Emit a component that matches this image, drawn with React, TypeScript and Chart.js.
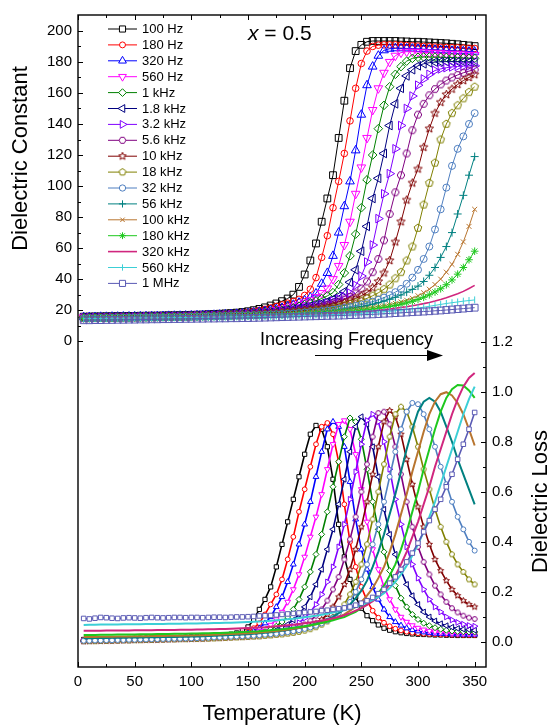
import React, { useEffect, useRef } from 'react';
import { Chart, registerables } from 'chart.js';
import { drawPoint } from 'chart.js/helpers';

Chart.register(...registerables);

const FONT = "'Liberation Sans', Arial, Helvetica, sans-serif";

// ---------------- data ----------------
const TEMPS = [
  5, 10, 15, 20, 25, 30, 35, 40, 45, 50,
  55, 60, 65, 70, 75, 80, 85, 90, 95, 100,
  105, 110, 115, 120, 125, 130, 135, 140, 145, 150,
  155, 160, 165, 170, 175, 180, 185, 190, 195, 200,
  205, 210, 215, 220, 225, 230, 235, 240, 245, 250,
  255, 260, 265, 270, 275, 280, 285, 290, 295, 300,
  305, 310, 315, 320, 325, 330, 335, 340, 345, 350,
];

const FREQ_LABELS = [
  '100 Hz', '180 Hz', '320 Hz', '560 Hz', '1 kHz', '1.8 kHz', '3.2 kHz', '5.6 kHz', '10 kHz',
  '18 kHz', '32 kHz', '56 kHz', '100 kHz', '180 kHz', '320 kHz', '560 kHz', '1 MHz',
];

// Dielectric constant (top panel)
const EPS_100HZ = [
  15.8, 15.9, 16.0, 16.0, 16.1, 16.1, 16.2, 16.2, 16.3, 16.3,
  16.4, 16.4, 16.5, 16.5, 16.6, 16.7, 16.7, 16.8, 16.9, 17.0,
  17.1, 17.2, 17.4, 17.5, 17.7, 17.9, 18.1, 18.4, 18.8, 19.3,
  20.0, 20.8, 21.8, 23.0, 24.3, 25.8, 27.5, 30.0, 35, 43,
  52, 63, 77, 92, 107, 131, 155, 176, 187, 191,
  193, 193.5, 193.5, 193.5, 193.5, 193.5, 193.3, 193.2, 193.0, 193.0,
  192.8, 192.6, 192.4, 192.2, 192.0, 191.7, 191.4, 191.0, 190.6, 190.2,
];
const EPS_180HZ = [
  15.6, 15.7, 15.8, 15.8, 15.9, 15.9, 16.0, 16.0, 16.1, 16.1,
  16.2, 16.2, 16.3, 16.3, 16.4, 16.5, 16.5, 16.6, 16.7, 16.8,
  16.9, 17.0, 17.1, 17.3, 17.4, 17.6, 17.8, 18.0, 18.3, 18.7,
  19.2, 19.8, 20.5, 21.4, 22.4, 23.4, 24.5, 25.6, 27.0, 29.5,
  33.5, 41, 54, 68, 86, 103, 121, 142, 163, 179,
  187, 190, 190.8, 191, 191, 191, 190.8, 190.6, 190.4, 190.2,
  190.0, 189.8, 189.6, 189.4, 189.3, 189.2, 189.1, 189.0, 188.8, 188.7,
];
const EPS_320HZ = [
  15.5, 15.6, 15.6, 15.7, 15.7, 15.8, 15.8, 15.9, 15.9, 16.0,
  16.0, 16.1, 16.1, 16.2, 16.2, 16.3, 16.4, 16.4, 16.5, 16.6,
  16.7, 16.8, 16.9, 17.0, 17.1, 17.3, 17.4, 17.6, 17.8, 18.1,
  18.5, 18.9, 19.4, 20.0, 20.7, 21.5, 22.4, 23.5, 24.8, 26.3,
  28.2, 30.8, 37, 44, 55, 70, 87, 103, 123, 146,
  165, 177, 184, 187.5, 188.5, 188.8, 188.8, 188.7, 188.6, 188.4,
  188.2, 188.0, 187.8, 187.6, 187.4, 187.2, 187.0, 186.9, 186.7, 186.6,
];
const EPS_560HZ = [
  15.4, 15.5, 15.5, 15.6, 15.6, 15.7, 15.7, 15.8, 15.8, 15.9,
  15.9, 16.0, 16.0, 16.1, 16.1, 16.2, 16.3, 16.3, 16.4, 16.5,
  16.6, 16.7, 16.8, 16.9, 17.0, 17.1, 17.3, 17.4, 17.6, 17.8,
  18.1, 18.5, 18.9, 19.4, 20.0, 20.7, 21.5, 22.4, 23.5, 24.8,
  26.4, 28.4, 31, 34, 40, 48.5, 62, 77, 95, 112,
  131, 149, 163, 173, 180, 184, 186, 186.6, 186.6, 186.4,
  186.2, 186.0, 185.8, 185.6, 185.4, 185.2, 185.0, 184.8, 184.6, 184.5,
];
const EPS_1KHZ = [
  15.3, 15.4, 15.4, 15.5, 15.5, 15.6, 15.6, 15.7, 15.7, 15.8,
  15.8, 15.9, 15.9, 16.0, 16.0, 16.1, 16.2, 16.2, 16.3, 16.4,
  16.5, 16.6, 16.7, 16.8, 16.9, 17.0, 17.1, 17.3, 17.4, 17.6,
  17.8, 18.1, 18.5, 18.9, 19.4, 20.0, 20.7, 21.5, 22.5, 23.6,
  24.8, 26.0, 27.5, 29.2, 31.3, 36.5, 44, 55, 69, 86,
  104, 120, 137, 152, 164, 172, 177, 180.5, 182.3, 183.0,
  183.2, 183.2, 183.1, 183.0, 182.9, 182.8, 182.7, 182.6, 182.4, 182.3,
];
const EPS_1_8KHZ = [
  15.2, 15.3, 15.3, 15.4, 15.4, 15.5, 15.5, 15.6, 15.6, 15.7,
  15.7, 15.8, 15.8, 15.9, 15.9, 16.0, 16.1, 16.1, 16.2, 16.3,
  16.4, 16.5, 16.6, 16.7, 16.8, 16.9, 17.0, 17.1, 17.2, 17.4,
  17.6, 17.9, 18.2, 18.6, 19.0, 19.5, 20.0, 20.6, 21.2, 21.9,
  22.6, 23.4, 24.4, 25.6, 27.1, 29, 32, 38, 46, 58,
  74, 92, 105, 121, 139, 153, 163, 171, 175, 177.5,
  178.8, 179.5, 179.9, 180.1, 180.2, 180.2, 180.2, 180.1, 180.0, 180.0,
];
const EPS_3_2KHZ = [
  15.1, 15.2, 15.2, 15.3, 15.3, 15.4, 15.4, 15.5, 15.5, 15.6,
  15.6, 15.7, 15.7, 15.8, 15.8, 15.9, 16.0, 16.0, 16.1, 16.2,
  16.3, 16.4, 16.5, 16.6, 16.7, 16.8, 16.9, 17.0, 17.1, 17.2,
  17.4, 17.6, 17.9, 18.2, 18.5, 18.9, 19.4, 19.9, 20.5, 21.1,
  21.8, 22.6, 23.5, 24.6, 25.8, 27.2, 28.8, 31, 36, 42,
  51, 62, 79, 95, 108, 124, 139, 150, 158, 165,
  169, 172, 174.5, 175.5, 176.3, 176.8, 177.1, 177.3, 177.4, 177.5,
];
const EPS_5_6KHZ = [
  15.0, 15.1, 15.1, 15.2, 15.2, 15.3, 15.3, 15.4, 15.4, 15.5,
  15.5, 15.6, 15.6, 15.7, 15.7, 15.8, 15.9, 15.9, 16.0, 16.1,
  16.2, 16.3, 16.4, 16.5, 16.6, 16.7, 16.8, 16.9, 17.0, 17.1,
  17.3, 17.5, 17.7, 18.0, 18.3, 18.6, 19.0, 19.4, 19.9, 20.4,
  21.0, 21.7, 22.4, 23.3, 24.3, 25.5, 26.9, 28.5, 30.8, 34,
  38.5, 44.5, 53, 65, 82, 96, 107, 121, 136, 146,
  153, 158.5, 162.5, 165.5, 168, 170, 171.6, 173, 174.1, 175,
];
const EPS_10KHZ = [
  14.9, 15.0, 15.0, 15.1, 15.1, 15.2, 15.2, 15.3, 15.3, 15.4,
  15.4, 15.5, 15.5, 15.6, 15.6, 15.7, 15.8, 15.8, 15.9, 16.0,
  16.1, 16.2, 16.3, 16.4, 16.5, 16.6, 16.7, 16.8, 16.9, 17.0,
  17.1, 17.3, 17.5, 17.7, 18.0, 18.3, 18.6, 19.0, 19.4, 19.8,
  20.3, 20.9, 21.5, 22.2, 23.0, 23.9, 25.0, 26.2, 27.6, 29.3,
  31.4, 34.5, 38.5, 44, 52, 64, 77, 91, 102, 111,
  125, 137, 147, 154, 159, 162.5, 165.5, 168, 170, 171.8,
];
const EPS_18KHZ = [
  14.9, 14.9, 15.0, 15.0, 15.1, 15.1, 15.2, 15.2, 15.3, 15.3,
  15.4, 15.4, 15.5, 15.5, 15.6, 15.6, 15.7, 15.7, 15.8, 15.9,
  16.0, 16.1, 16.2, 16.3, 16.4, 16.5, 16.6, 16.7, 16.8, 16.9,
  17.0, 17.1, 17.3, 17.5, 17.7, 17.9, 18.2, 18.5, 18.8, 19.2,
  19.6, 20.0, 20.5, 21.0, 21.6, 22.3, 23.1, 24.0, 25.0, 26.2,
  27.6, 29.3, 31.2, 33.5, 36.5, 40.5, 44.5, 52, 61, 73,
  88, 102, 115, 130, 140, 147, 152, 156.5, 160.5, 164,
];
const EPS_32KHZ = [
  14.8, 14.9, 14.9, 15.0, 15.0, 15.1, 15.1, 15.2, 15.2, 15.3,
  15.3, 15.4, 15.4, 15.5, 15.5, 15.6, 15.6, 15.7, 15.7, 15.8,
  15.9, 16.0, 16.0, 16.1, 16.2, 16.3, 16.4, 16.5, 16.6, 16.7,
  16.8, 16.9, 17.0, 17.2, 17.3, 17.5, 17.7, 17.9, 18.2, 18.5,
  18.8, 19.1, 19.5, 19.9, 20.4, 20.9, 21.5, 22.1, 22.8, 23.6,
  24.5, 25.5, 26.7, 28.1, 29.7, 31.6, 33.7, 37, 41, 46,
  53, 61, 72, 85, 99, 113, 124, 132, 140, 147,
];
const EPS_56KHZ = [
  14.8, 14.8, 14.9, 14.9, 15.0, 15.0, 15.1, 15.1, 15.2, 15.2,
  15.3, 15.3, 15.4, 15.4, 15.5, 15.5, 15.6, 15.6, 15.7, 15.7,
  15.8, 15.9, 15.9, 16.0, 16.1, 16.2, 16.3, 16.4, 16.5, 16.6,
  16.7, 16.8, 16.9, 17.0, 17.2, 17.3, 17.5, 17.7, 17.9, 18.1,
  18.4, 18.7, 19.0, 19.4, 19.8, 20.2, 20.7, 21.2, 21.8, 22.4,
  23.1, 23.9, 24.8, 25.8, 27.0, 28.3, 29.8, 31.6, 33.4, 35.5,
  38.5, 42.5, 47.5, 54, 61, 70, 82, 94, 107, 119,
];
const EPS_100KHZ = [
  14.7, 14.8, 14.8, 14.9, 14.9, 15.0, 15.0, 15.1, 15.1, 15.2,
  15.2, 15.3, 15.3, 15.4, 15.4, 15.5, 15.5, 15.6, 15.6, 15.7,
  15.7, 15.8, 15.8, 15.9, 16.0, 16.1, 16.1, 16.2, 16.3, 16.4,
  16.5, 16.6, 16.7, 16.8, 16.9, 17.0, 17.2, 17.3, 17.5, 17.7,
  17.9, 18.1, 18.3, 18.6, 18.9, 19.2, 19.5, 19.9, 20.3, 20.7,
  21.2, 21.7, 22.3, 22.9, 23.6, 24.4, 25.3, 26.4, 27.7, 29.3,
  31.2, 33.5, 36.5, 40, 44.5, 49.5, 56, 64, 74, 85,
];
const EPS_180KHZ = [
  14.7, 14.7, 14.8, 14.8, 14.9, 14.9, 15.0, 15.0, 15.1, 15.1,
  15.2, 15.2, 15.3, 15.3, 15.3, 15.4, 15.4, 15.5, 15.5, 15.6,
  15.6, 15.7, 15.7, 15.8, 15.8, 15.9, 16.0, 16.0, 16.1, 16.2,
  16.3, 16.4, 16.5, 16.6, 16.7, 16.8, 16.9, 17.0, 17.2, 17.3,
  17.5, 17.7, 17.9, 18.1, 18.3, 18.6, 18.9, 19.2, 19.5, 19.9,
  20.3, 20.7, 21.2, 21.7, 22.3, 23.0, 23.8, 24.7, 25.7, 26.9,
  28.3, 29.9, 31.7, 33.8, 36.4, 39.5, 43.2, 47.5, 52.5, 58,
];
const EPS_320KHZ = [
  14.6, 14.7, 14.7, 14.8, 14.8, 14.9, 14.9, 15.0, 15.0, 15.0,
  15.1, 15.1, 15.2, 15.2, 15.3, 15.3, 15.3, 15.4, 15.4, 15.5,
  15.5, 15.6, 15.6, 15.7, 15.7, 15.8, 15.8, 15.9, 15.9, 16.0,
  16.1, 16.1, 16.2, 16.3, 16.4, 16.5, 16.6, 16.7, 16.8, 16.9,
  17.0, 17.2, 17.3, 17.5, 17.7, 17.9, 18.1, 18.3, 18.6, 18.9,
  19.2, 19.5, 19.9, 20.3, 20.7, 21.2, 21.7, 22.2, 22.8, 23.5,
  24.2, 25.0, 25.9, 26.9, 28.0, 29.3, 30.6, 32.1, 34.0, 36.0,
];
const EPS_560KHZ = [
  14.5, 14.6, 14.6, 14.7, 14.7, 14.8, 14.8, 14.8, 14.9, 14.9,
  15.0, 15.0, 15.0, 15.1, 15.1, 15.2, 15.2, 15.2, 15.3, 15.3,
  15.4, 15.4, 15.5, 15.5, 15.5, 15.6, 15.6, 15.7, 15.7, 15.8,
  15.8, 15.9, 16.0, 16.0, 16.1, 16.2, 16.3, 16.4, 16.5, 16.6,
  16.7, 16.8, 16.9, 17.0, 17.2, 17.3, 17.5, 17.6, 17.8, 18.0,
  18.2, 18.4, 18.7, 19.0, 19.3, 19.6, 20.0, 20.4, 20.9, 21.4,
  21.9, 22.5, 23.1, 23.7, 24.3, 24.8, 25.3, 25.8, 26.2, 26.6,
];
const EPS_1MHZ = [
  13.5, 13.5, 13.6, 13.6, 13.7, 13.7, 13.8, 13.8, 13.9, 13.9,
  14.0, 14.0, 14.1, 14.1, 14.2, 14.2, 14.3, 14.3, 14.4, 14.4,
  14.5, 14.5, 14.6, 14.6, 14.7, 14.7, 14.8, 14.8, 14.9, 14.9,
  15.0, 15.1, 15.2, 15.3, 15.4, 15.5, 15.6, 15.7, 15.8, 15.9,
  16.0, 16.1, 16.2, 16.3, 16.4, 16.5, 16.6, 16.8, 16.9, 17.0,
  17.2, 17.3, 17.5, 17.7, 17.9, 18.1, 18.3, 18.5, 18.7, 18.9,
  19.1, 19.3, 19.6, 19.8, 20.1, 20.4, 20.7, 21.0, 21.3, 21.6,
];

// Dielectric loss (bottom panel)
const LOSS_100HZ = [
  0.010, 0.010, 0.011, 0.011, 0.012, 0.012, 0.013, 0.013, 0.014, 0.014,
  0.015, 0.015, 0.016, 0.016, 0.017, 0.017, 0.018, 0.018, 0.019, 0.020,
  0.021, 0.022, 0.023, 0.024, 0.026, 0.028, 0.031, 0.036, 0.045, 0.06,
  0.09, 0.13, 0.17, 0.22, 0.30, 0.39, 0.48, 0.57, 0.66, 0.75,
  0.83, 0.865, 0.85, 0.78, 0.65, 0.47, 0.34, 0.25, 0.18, 0.135,
  0.105, 0.085, 0.068, 0.055, 0.047, 0.041, 0.037, 0.034, 0.032, 0.031,
  0.030, 0.029, 0.028, 0.028, 0.027, 0.027, 0.026, 0.026, 0.026, 0.026,
];
const LOSS_180HZ = [
  0.008, 0.009, 0.009, 0.010, 0.010, 0.011, 0.011, 0.012, 0.012, 0.013,
  0.013, 0.014, 0.014, 0.015, 0.015, 0.016, 0.016, 0.017, 0.018, 0.019,
  0.020, 0.021, 0.022, 0.023, 0.024, 0.026, 0.028, 0.030, 0.034, 0.04,
  0.055, 0.075, 0.11, 0.15, 0.19, 0.25, 0.33, 0.42, 0.52, 0.61,
  0.70, 0.79, 0.86, 0.875, 0.83, 0.72, 0.55, 0.40, 0.30, 0.22,
  0.165, 0.125, 0.097, 0.077, 0.063, 0.053, 0.046, 0.041, 0.037, 0.035,
  0.033, 0.032, 0.031, 0.030, 0.030, 0.029, 0.029, 0.028, 0.028, 0.028,
];
const LOSS_320HZ = [
  0.006, 0.007, 0.007, 0.008, 0.008, 0.009, 0.009, 0.010, 0.010, 0.011,
  0.011, 0.012, 0.012, 0.013, 0.013, 0.014, 0.014, 0.015, 0.016, 0.017,
  0.018, 0.019, 0.020, 0.021, 0.022, 0.024, 0.026, 0.028, 0.031, 0.035,
  0.042, 0.055, 0.075, 0.10, 0.14, 0.18, 0.24, 0.31, 0.39, 0.47,
  0.56, 0.66, 0.76, 0.85, 0.88, 0.86, 0.78, 0.64, 0.49, 0.37,
  0.29, 0.22, 0.17, 0.13, 0.10, 0.08, 0.066, 0.055, 0.048, 0.043,
  0.039, 0.036, 0.034, 0.033, 0.032, 0.031, 0.031, 0.030, 0.030, 0.030,
];
const LOSS_560HZ = [
  0.005, 0.006, 0.006, 0.007, 0.007, 0.008, 0.008, 0.009, 0.009, 0.010,
  0.010, 0.011, 0.011, 0.012, 0.012, 0.013, 0.013, 0.014, 0.015, 0.016,
  0.017, 0.018, 0.019, 0.020, 0.021, 0.022, 0.024, 0.026, 0.028, 0.031,
  0.035, 0.042, 0.052, 0.068, 0.09, 0.12, 0.16, 0.21, 0.27, 0.34,
  0.42, 0.50, 0.59, 0.69, 0.79, 0.87, 0.885, 0.85, 0.75, 0.61,
  0.48, 0.37, 0.29, 0.22, 0.17, 0.13, 0.10, 0.08, 0.066, 0.056,
  0.049, 0.044, 0.041, 0.039, 0.037, 0.036, 0.035, 0.035, 0.035, 0.035,
];
const LOSS_1KHZ = [
  0.005, 0.005, 0.006, 0.006, 0.007, 0.007, 0.008, 0.008, 0.009, 0.009,
  0.010, 0.010, 0.011, 0.011, 0.012, 0.012, 0.013, 0.013, 0.014, 0.015,
  0.016, 0.017, 0.018, 0.019, 0.020, 0.021, 0.022, 0.024, 0.026, 0.028,
  0.031, 0.035, 0.041, 0.05, 0.063, 0.08, 0.10, 0.13, 0.17, 0.22,
  0.28, 0.35, 0.43, 0.52, 0.62, 0.72, 0.82, 0.895, 0.88, 0.81,
  0.69, 0.56, 0.45, 0.36, 0.285, 0.225, 0.175, 0.14, 0.11, 0.09,
  0.075, 0.065, 0.057, 0.051, 0.047, 0.044, 0.042, 0.041, 0.040, 0.040,
];
const LOSS_1_8KHZ = [
  0.004, 0.005, 0.005, 0.006, 0.006, 0.007, 0.007, 0.008, 0.008, 0.009,
  0.009, 0.010, 0.010, 0.011, 0.011, 0.012, 0.012, 0.013, 0.013, 0.014,
  0.015, 0.016, 0.017, 0.018, 0.019, 0.020, 0.021, 0.022, 0.024, 0.026,
  0.028, 0.031, 0.035, 0.04, 0.047, 0.057, 0.07, 0.088, 0.11, 0.14,
  0.18, 0.23, 0.29, 0.37, 0.45, 0.55, 0.65, 0.76, 0.86, 0.90,
  0.87, 0.78, 0.66, 0.53, 0.43, 0.35, 0.285, 0.23, 0.185, 0.15,
  0.12, 0.10, 0.084, 0.073, 0.065, 0.059, 0.054, 0.051, 0.049, 0.047,
];
const LOSS_3_2KHZ = [
  0.004, 0.004, 0.005, 0.005, 0.006, 0.006, 0.007, 0.007, 0.008, 0.008,
  0.009, 0.009, 0.010, 0.010, 0.011, 0.011, 0.012, 0.012, 0.013, 0.013,
  0.014, 0.015, 0.016, 0.017, 0.018, 0.019, 0.020, 0.021, 0.022, 0.024,
  0.026, 0.028, 0.031, 0.034, 0.038, 0.044, 0.052, 0.063, 0.077, 0.095,
  0.12, 0.15, 0.19, 0.24, 0.30, 0.38, 0.47, 0.57, 0.68, 0.79,
  0.885, 0.91, 0.88, 0.80, 0.69, 0.57, 0.47, 0.38, 0.31, 0.255,
  0.21, 0.17, 0.14, 0.12, 0.10, 0.088, 0.078, 0.071, 0.066, 0.063,
];
const LOSS_5_6KHZ = [
  0.003, 0.004, 0.004, 0.005, 0.005, 0.006, 0.006, 0.007, 0.007, 0.008,
  0.008, 0.009, 0.009, 0.010, 0.010, 0.011, 0.011, 0.012, 0.012, 0.013,
  0.013, 0.014, 0.015, 0.016, 0.017, 0.018, 0.019, 0.020, 0.021, 0.022,
  0.024, 0.026, 0.028, 0.030, 0.033, 0.037, 0.042, 0.049, 0.058, 0.07,
  0.085, 0.105, 0.13, 0.165, 0.21, 0.26, 0.33, 0.41, 0.50, 0.60,
  0.71, 0.82, 0.915, 0.92, 0.87, 0.78, 0.67, 0.56, 0.46, 0.38,
  0.32, 0.27, 0.225, 0.19, 0.16, 0.135, 0.118, 0.105, 0.097, 0.092,
];
const LOSS_10KHZ = [
  0.003, 0.003, 0.004, 0.004, 0.005, 0.005, 0.006, 0.006, 0.007, 0.007,
  0.008, 0.008, 0.009, 0.009, 0.010, 0.010, 0.011, 0.011, 0.012, 0.012,
  0.013, 0.013, 0.014, 0.015, 0.016, 0.017, 0.018, 0.019, 0.020, 0.021,
  0.022, 0.024, 0.026, 0.028, 0.030, 0.033, 0.036, 0.040, 0.046, 0.053,
  0.062, 0.075, 0.09, 0.11, 0.14, 0.18, 0.23, 0.29, 0.37, 0.46,
  0.56, 0.67, 0.78, 0.88, 0.925, 0.90, 0.83, 0.73, 0.63, 0.54,
  0.46, 0.39, 0.33, 0.285, 0.245, 0.21, 0.185, 0.165, 0.15, 0.14,
];
const LOSS_18KHZ = [
  0.003, 0.003, 0.003, 0.004, 0.004, 0.005, 0.005, 0.006, 0.006, 0.007,
  0.007, 0.008, 0.008, 0.009, 0.009, 0.010, 0.010, 0.011, 0.011, 0.012,
  0.012, 0.013, 0.013, 0.014, 0.015, 0.016, 0.017, 0.018, 0.019, 0.020,
  0.021, 0.022, 0.024, 0.026, 0.028, 0.030, 0.033, 0.036, 0.040, 0.045,
  0.051, 0.059, 0.069, 0.082, 0.10, 0.12, 0.15, 0.19, 0.24, 0.31,
  0.39, 0.49, 0.60, 0.71, 0.82, 0.91, 0.94, 0.92, 0.86, 0.78,
  0.69, 0.61, 0.53, 0.46, 0.40, 0.35, 0.31, 0.28, 0.25, 0.23,
];
const LOSS_32KHZ = [
  0.005, 0.005, 0.006, 0.006, 0.007, 0.007, 0.008, 0.008, 0.009, 0.009,
  0.010, 0.010, 0.011, 0.011, 0.012, 0.012, 0.013, 0.013, 0.014, 0.014,
  0.015, 0.016, 0.017, 0.018, 0.019, 0.020, 0.021, 0.022, 0.023, 0.024,
  0.025, 0.027, 0.029, 0.031, 0.033, 0.036, 0.039, 0.043, 0.047, 0.052,
  0.058, 0.065, 0.074, 0.085, 0.098, 0.115, 0.135, 0.16, 0.20, 0.25,
  0.31, 0.39, 0.47, 0.56, 0.66, 0.76, 0.85, 0.92, 0.955, 0.95,
  0.91, 0.85, 0.78, 0.70, 0.63, 0.56, 0.50, 0.45, 0.40, 0.365,
];
const LOSS_56KHZ = [
  0.015, 0.015, 0.016, 0.016, 0.016, 0.017, 0.017, 0.017, 0.018, 0.018,
  0.018, 0.019, 0.019, 0.019, 0.020, 0.020, 0.020, 0.021, 0.021, 0.022,
  0.022, 0.023, 0.024, 0.025, 0.026, 0.027, 0.028, 0.029, 0.030, 0.031,
  0.033, 0.035, 0.037, 0.039, 0.042, 0.045, 0.048, 0.052, 0.056, 0.061,
  0.067, 0.074, 0.082, 0.091, 0.10, 0.115, 0.13, 0.15, 0.175, 0.205,
  0.245, 0.30, 0.36, 0.43, 0.51, 0.59, 0.68, 0.77, 0.85, 0.92,
  0.96, 0.975, 0.96, 0.92, 0.86, 0.80, 0.73, 0.67, 0.61, 0.55,
];
const LOSS_100KHZ = [
  0.020, 0.020, 0.020, 0.021, 0.021, 0.021, 0.022, 0.022, 0.022, 0.023,
  0.023, 0.023, 0.024, 0.024, 0.024, 0.025, 0.025, 0.025, 0.026, 0.026,
  0.027, 0.027, 0.028, 0.029, 0.030, 0.031, 0.032, 0.033, 0.034, 0.035,
  0.036, 0.038, 0.040, 0.042, 0.044, 0.047, 0.050, 0.053, 0.057, 0.061,
  0.066, 0.071, 0.077, 0.084, 0.092, 0.10, 0.11, 0.125, 0.14, 0.16,
  0.185, 0.215, 0.255, 0.30, 0.36, 0.43, 0.51, 0.59, 0.68, 0.76,
  0.84, 0.91, 0.96, 0.99, 0.998, 0.985, 0.955, 0.91, 0.85, 0.785,
];
const LOSS_180KHZ = [
  0.028, 0.028, 0.028, 0.029, 0.029, 0.029, 0.030, 0.030, 0.030, 0.030,
  0.031, 0.031, 0.031, 0.032, 0.032, 0.032, 0.033, 0.033, 0.033, 0.034,
  0.034, 0.035, 0.035, 0.036, 0.036, 0.037, 0.038, 0.039, 0.040, 0.041,
  0.042, 0.043, 0.045, 0.047, 0.049, 0.051, 0.054, 0.057, 0.060, 0.063,
  0.067, 0.071, 0.076, 0.081, 0.087, 0.094, 0.10, 0.11, 0.12, 0.135,
  0.15, 0.17, 0.195, 0.225, 0.265, 0.31, 0.37, 0.44, 0.52, 0.60,
  0.69, 0.77, 0.85, 0.92, 0.975, 1.01, 1.027, 1.025, 1.005, 0.975,
];
const LOSS_320KHZ = [
  0.045, 0.045, 0.045, 0.045, 0.046, 0.046, 0.046, 0.046, 0.046, 0.047,
  0.047, 0.047, 0.047, 0.048, 0.048, 0.048, 0.048, 0.049, 0.049, 0.049,
  0.050, 0.050, 0.051, 0.051, 0.052, 0.052, 0.053, 0.054, 0.055, 0.056,
  0.057, 0.058, 0.059, 0.061, 0.063, 0.065, 0.067, 0.069, 0.072, 0.075,
  0.078, 0.082, 0.086, 0.09, 0.095, 0.10, 0.107, 0.115, 0.125, 0.135,
  0.148, 0.163, 0.18, 0.20, 0.23, 0.265, 0.31, 0.36, 0.42, 0.48,
  0.55, 0.62, 0.70, 0.77, 0.84, 0.91, 0.97, 1.02, 1.055, 1.075,
];
const LOSS_560KHZ = [
  0.068, 0.069, 0.069, 0.070, 0.070, 0.070, 0.070, 0.071, 0.071, 0.071,
  0.071, 0.072, 0.072, 0.072, 0.072, 0.073, 0.073, 0.073, 0.074, 0.074,
  0.074, 0.075, 0.075, 0.076, 0.076, 0.077, 0.077, 0.078, 0.079, 0.080,
  0.081, 0.082, 0.083, 0.085, 0.087, 0.089, 0.091, 0.093, 0.096, 0.099,
  0.102, 0.105, 0.109, 0.113, 0.118, 0.123, 0.128, 0.134, 0.14, 0.148,
  0.157, 0.167, 0.18, 0.195, 0.215, 0.24, 0.27, 0.305, 0.345, 0.39,
  0.44, 0.50, 0.56, 0.63, 0.70, 0.77, 0.84, 0.91, 0.97, 1.02,
];
const LOSS_1MHZ = [
  0.094, 0.092, 0.095, 0.098, 0.097, 0.095, 0.094, 0.096, 0.097, 0.096,
  0.095, 0.097, 0.098, 0.097, 0.096, 0.097, 0.098, 0.098, 0.097, 0.098,
  0.098, 0.097, 0.098, 0.099, 0.099, 0.098, 0.099, 0.100, 0.100, 0.101,
  0.102, 0.104, 0.105, 0.106, 0.108, 0.110, 0.112, 0.114, 0.116, 0.118,
  0.120, 0.122, 0.125, 0.127, 0.130, 0.133, 0.136, 0.140, 0.147, 0.155,
  0.165, 0.178, 0.193, 0.21, 0.235, 0.26, 0.29, 0.32, 0.355, 0.395,
  0.44, 0.485, 0.53, 0.57, 0.62, 0.67, 0.73, 0.79, 0.85, 0.917,
];

const EPS_SERIES = [
  EPS_100HZ, EPS_180HZ, EPS_320HZ, EPS_560HZ, EPS_1KHZ, EPS_1_8KHZ, EPS_3_2KHZ, EPS_5_6KHZ, EPS_10KHZ,
  EPS_18KHZ, EPS_32KHZ, EPS_56KHZ, EPS_100KHZ, EPS_180KHZ, EPS_320KHZ, EPS_560KHZ, EPS_1MHZ,
];
const LOSS_SERIES = [
  LOSS_100HZ, LOSS_180HZ, LOSS_320HZ, LOSS_560HZ, LOSS_1KHZ, LOSS_1_8KHZ, LOSS_3_2KHZ, LOSS_5_6KHZ, LOSS_10KHZ,
  LOSS_18KHZ, LOSS_32KHZ, LOSS_56KHZ, LOSS_100KHZ, LOSS_180KHZ, LOSS_320KHZ, LOSS_560KHZ, LOSS_1MHZ,
];

const X_TICKS = [0, 50, 100, 150, 200, 250, 300, 350];
const X_MINOR_TICKS = [25, 75, 125, 175, 225, 275, 325];
const EPS_TICKS = [0, 20, 40, 60, 80, 100, 120, 140, 160, 180, 200];
const EPS_MINOR_TICKS = [10, 30, 50, 70, 90, 110, 130, 150, 170, 190];
const LOSS_TICKS = [0, 0.2, 0.4, 0.6, 0.8, 1.0, 1.2];
const LOSS_MINOR_TICKS = [0.1, 0.3, 0.5, 0.7, 0.9, 1.1];

// ---------------- styles ----------------
const COLORS = [
  '#000000', '#ff0000', '#0000ff', '#ff00ff', '#008000', '#000080', '#8000ff', '#800080', '#800000',
  '#808000', '#4f7fc0', '#008080', '#b8752f', '#1ec81e', '#d0267e', '#3ccfd6', '#5a5ab4',
];
// [style, rotation, topRadius, bottomRadius]
const MARKERS: [string, number, number, number][] = [
  ['rect', 0, 4.8, 3.0],
  ['circle', 0, 3.3, 2.4],
  ['triangle', 0, 5.0, 3.3],
  ['triangle', 180, 5.0, 3.3],
  ['rectRot', 0, 4.3, 3.0],
  ['triangle', -90, 5.0, 3.3],
  ['triangle', 90, 5.0, 3.3],
  ['hex', 0, 3.8, 2.6],
  ['star5', 0, 4.4, 3.2],
  ['pent', 0, 4.0, 2.8],
  ['circle', 0, 3.5, 2.5],
  ['cross', 0, 4.0, 0],
  ['crossRot', 0, 3.5, 0],
  ['star', 0, 3.8, 0],
  ['none', 0, 0, 0],
  ['line', 90, 3.5, 0],
  ['rect', 0, 4.8, 3.2],
];

function shapeCanvas(kind: string, r: number, color: string, fill: string | null) {
  const size = Math.ceil(2 * r + 4);
  const c = document.createElement('canvas');
  c.width = size;
  c.height = size;
  const g = c.getContext('2d')!;
  g.translate(size / 2, size / 2);
  const star = kind === 'star5';
  const n = kind === 'hex' ? 6 : star ? 10 : 5;
  const off = kind === 'hex' ? Math.PI / 6 : 0;
  g.beginPath();
  for (let k = 0; k < n; k++) {
    const rr = star && k % 2 === 1 ? r * 0.45 : r;
    const ang = -Math.PI / 2 + off + (k * 2 * Math.PI) / n;
    const px = rr * Math.cos(ang);
    const py = rr * Math.sin(ang);
    if (k === 0) g.moveTo(px, py);
    else g.lineTo(px, py);
  }
  g.closePath();
  if (fill) {
    g.fillStyle = fill;
    g.fill();
  }
  g.strokeStyle = color;
  g.lineWidth = 1;
  g.stroke();
  return c;
}

function pointStyleFor(i: number, r: number, fill: string | null): any {
  const kind = MARKERS[i][0];
  if (kind === 'hex' || kind === 'star5' || kind === 'pent') return shapeCanvas(kind, r, COLORS[i], fill);
  if (kind === 'none') return false;
  return kind;
}

const W = 550;
const H = 726;

export default function App() {
  const ref = useRef<HTMLCanvasElement>(null);

  useEffect(() => {
    const canvas = ref.current;
    if (!canvas) return;

    const toPts = (arr: number[]) => TEMPS.map((t, i) => ({ x: t, y: arr[i] }));

    const topSets = EPS_SERIES.map((arr, i) => ({
      label: FREQ_LABELS[i],
      data: toPts(arr),
      xAxisID: 'x',
      yAxisID: 'yL',
      borderColor: COLORS[i],
      borderWidth: i === 14 ? 1.6 : 1,
      pointStyle: pointStyleFor(i, MARKERS[i][2], null),
      pointRotation: MARKERS[i][1],
      pointRadius: MARKERS[i][2],
      pointBorderColor: COLORS[i],
      pointBackgroundColor: 'rgba(0,0,0,0)',
      pointBorderWidth: 1,
      tension: 0,
      order: -i,
    }));

    const botSets = LOSS_SERIES.map((arr, i) => ({
      label: FREQ_LABELS[i] + ' loss',
      data: toPts(arr),
      xAxisID: 'x',
      yAxisID: 'yR',
      borderColor: COLORS[i],
      borderWidth: i >= 11 && i <= 15 ? 2 : 1.6,
      pointStyle: pointStyleFor(i, MARKERS[i][3], '#ffffff'),
      pointRotation: MARKERS[i][1],
      pointRadius: MARKERS[i][3],
      pointBorderColor: COLORS[i],
      pointBackgroundColor: '#ffffff',
      pointBorderWidth: 1,
      tension: 0,
      order: -i,
    }));

    const legendStyles = FREQ_LABELS.map((_, i) => pointStyleFor(i, MARKERS[i][2] * 0.9, '#ffffff'));

    const decor = {
      id: 'decor',
      afterDatasetsDraw(chart: any) {
        const { ctx, chartArea: a } = chart;
        const sx = chart.scales.x;
        const sl = chart.scales.yL;
        const sr = chart.scales.yR;
        ctx.save();
        ctx.strokeStyle = '#000';
        ctx.lineWidth = 1;
        ctx.beginPath();
        const vx = (v: number, len: number) => {
          const p = Math.round(sx.getPixelForValue(v)) + 0.5;
          ctx.moveTo(p, a.bottom);
          ctx.lineTo(p, a.bottom - len);
          ctx.moveTo(p, a.top);
          ctx.lineTo(p, a.top + len);
        };
        X_TICKS.forEach((v) => vx(v, 5));
        X_MINOR_TICKS.forEach((v) => vx(v, 3));
        const hl = (v: number, len: number) => {
          const p = Math.round(sl.getPixelForValue(v)) + 0.5;
          ctx.moveTo(a.left, p);
          ctx.lineTo(a.left + len, p);
        };
        EPS_TICKS.forEach((v) => hl(v, 5));
        EPS_MINOR_TICKS.forEach((v) => hl(v, 3));
        const hr = (v: number, len: number) => {
          const p = Math.round(sr.getPixelForValue(v)) + 0.5;
          ctx.moveTo(a.right, p);
          ctx.lineTo(a.right - len, p);
        };
        LOSS_TICKS.forEach((v) => hr(v, 5));
        LOSS_MINOR_TICKS.forEach((v) => hr(v, 3));
        ctx.stroke();
        ctx.lineWidth = 1.4;
        ctx.strokeRect(a.left, a.top, a.right - a.left, a.bottom - a.top);
        ctx.restore();
      },
      afterDraw(chart: any) {
        const { ctx, chartArea: a } = chart;
        ctx.save();
        ctx.fillStyle = '#000';

        // axis titles
        ctx.font = `22px ${FONT}`;
        ctx.textAlign = 'center';
        ctx.textBaseline = 'alphabetic';
        ctx.fillText('Temperature (K)', (a.left + a.right) / 2, 720);

        ctx.save();
        ctx.translate(26.5, 158.5);
        ctx.rotate(-Math.PI / 2);
        ctx.fillText('Dielectric Constant', 0, 0);
        ctx.restore();

        ctx.save();
        ctx.translate(546.5, 501.5);
        ctx.rotate(-Math.PI / 2);
        ctx.fillText('Dielectric Loss', 0, 0);
        ctx.restore();

        // x = 0.5
        ctx.textAlign = 'left';
        ctx.font = `italic 21px ${FONT}`;
        ctx.fillText('x', 248, 39.5);
        const wx = ctx.measureText('x').width;
        ctx.font = `21px ${FONT}`;
        ctx.fillText(' = 0.5', 248 + wx, 39.5);

        // Increasing Frequency + arrow
        ctx.font = `18px ${FONT}`;
        ctx.fillText('Increasing Frequency', 260, 345);
        ctx.strokeStyle = '#000';
        ctx.lineWidth = 1.2;
        ctx.beginPath();
        ctx.moveTo(315, 355.5);
        ctx.lineTo(430, 355.5);
        ctx.stroke();
        ctx.beginPath();
        ctx.moveTo(427, 350);
        ctx.lineTo(443, 355.5);
        ctx.lineTo(427, 361);
        ctx.closePath();
        ctx.fill();

        // legend
        FREQ_LABELS.forEach((lab, i) => {
          const y = 29 + i * 15.9;
          ctx.strokeStyle = COLORS[i];
          ctx.lineWidth = i === 14 ? 1.6 : 1;
          ctx.beginPath();
          ctx.moveTo(108, y);
          ctx.lineTo(137, y);
          ctx.stroke();
          const st = legendStyles[i];
          if (st) {
            ctx.fillStyle = '#ffffff';
            ctx.lineWidth = 1;
            drawPoint(ctx, { pointStyle: st, rotation: MARKERS[i][1], radius: MARKERS[i][2] * 0.9, borderWidth: 1 } as any, 122.5, y);
          }
          ctx.fillStyle = '#000';
          ctx.font = `13px ${FONT}`;
          ctx.textAlign = 'left';
          ctx.textBaseline = 'middle';
          ctx.fillText(lab, 142, y + 0.5);
        });
        ctx.restore();
      },
    };

    const tickFont = { family: FONT, size: 15 };

    const chart = new Chart(canvas, {
      type: 'line',
      data: { datasets: [...topSets, ...botSets] as any },
      options: {
        responsive: false,
        animation: false,
        devicePixelRatio: 1,
        layout: { padding: { top: 8, left: 0, right: 0, bottom: 0 } },
        plugins: { legend: { display: false }, tooltip: { enabled: false } },
        events: [],
        scales: {
          x: {
            type: 'linear',
            position: 'bottom',
            min: 0,
            max: 360,
            afterBuildTicks: (s: any) => {
              s.ticks = X_TICKS.map((v) => ({ value: v }));
            },
            afterFit: (s: any) => {
              s.height = 59;
            },
            grid: { display: false, drawTicks: false },
            border: { display: false },
            ticks: {
              font: tickFont,
              color: '#000',
              padding: 6,
              maxRotation: 0,
              autoSkip: false,
              callback: (v: any) => String(v),
            },
          },
          yL: {
            type: 'linear',
            position: 'left',
            min: -210,
            max: 210.25,
            afterBuildTicks: (s: any) => {
              s.ticks = EPS_TICKS.map((v) => ({ value: v }));
            },
            afterFit: (s: any) => {
              s.width = 78;
            },
            grid: { display: false, drawTicks: false },
            border: { display: false },
            ticks: {
              font: tickFont,
              color: '#000',
              padding: 6,
              autoSkip: false,
              callback: (v: any) => String(v),
            },
          },
          yR: {
            type: 'linear',
            position: 'right',
            min: -0.1,
            max: 2.505,
            afterBuildTicks: (s: any) => {
              s.ticks = LOSS_TICKS.map((v) => ({ value: v }));
            },
            afterFit: (s: any) => {
              s.width = 64;
            },
            grid: { display: false, drawTicks: false },
            border: { display: false },
            ticks: {
              font: tickFont,
              color: '#000',
              padding: 6,
              autoSkip: false,
              callback: (v: any) => Number(v).toFixed(1),
            },
          },
        },
      } as any,
      plugins: [decor],
    });

    return () => chart.destroy();
  }, []);

  return (
    <div style={{ position: 'absolute', left: 0, top: 0, width: W, height: H, background: '#ffffff' }}>
      <canvas ref={ref} width={W} height={H} style={{ display: 'block', width: W, height: H }} />
    </div>
  );
}
